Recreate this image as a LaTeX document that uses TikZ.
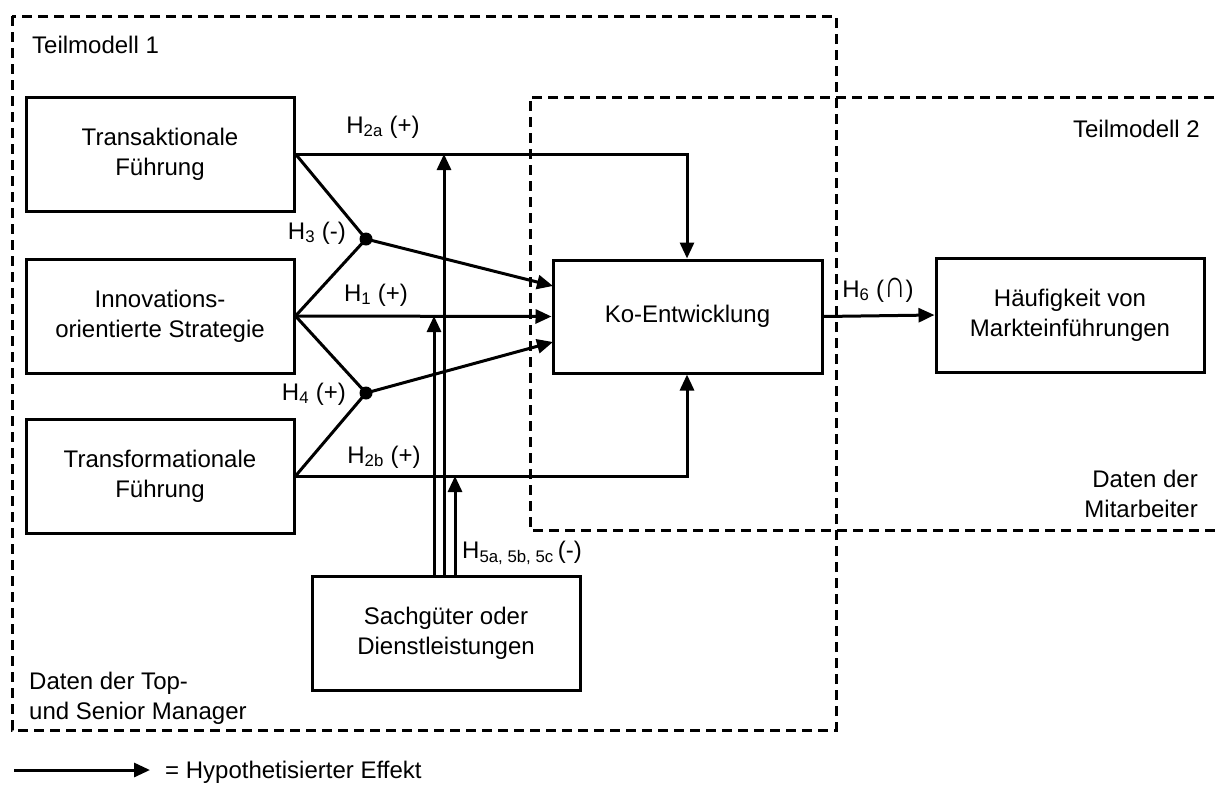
\documentclass[tikz,border=0pt]{standalone}
\usepackage{fontspec}
\usepackage{graphicx}
\setmainfont{Liberation Sans}
\usetikzlibrary{arrows.meta}
\begin{document}
\begin{tikzpicture}[x=1pt,y=-1pt,
  every node/.style={font=\fontsize{24}{30}\selectfont},
  box/.style={draw,line width=3pt,minimum width=268pt,minimum height=114pt,align=center,inner sep=0pt},
  conn/.style={line width=3pt},
  arr/.style={line width=3pt,-{Triangle[length=16pt,width=14pt]}},
  region/.style={line width=3pt,dash pattern=on 10pt off 6pt},
  dot/.style={circle,fill,inner sep=0pt,minimum size=13pt},
  lbl/.style={inner sep=1pt}]
\useasboundingbox (0,0) rectangle (1216,785);
% regions
\draw[region] (12,16) rectangle (836,730);
\draw[region] (1230,97) -- (530,97) -- (530,530) -- (1230,530);
\node[lbl,anchor=west] (t1) at (31,45) {Teilmodell 1};
\node[lbl,anchor=east] (t2) at (1201,129) {Teilmodell 2};
\node[lbl,anchor=east,align=right] (dm) at (1199,494) {Daten der\\Mitarbeiter};
\node[lbl,anchor=west,align=left] (dt) at (28,698) {Daten der Top-\\und Senior Manager};
% boxes
\node[box] (ta) at (160,154) {Transaktionale\\Führung};
\node[box] (is) at (160,316) {Innovations-\\orientierte Strategie};
\node[box] (tf) at (160,476) {Transformationale\\Führung};
\node[box,minimum width=269pt,minimum height=113pt] (ko) at (687.5,316.5) {Ko-Entwicklung};
\node[box] (hm) at (1070,315) {Häufigkeit von\\Markteinführungen};
\node[box] (sg) at (446,633) {Sachgüter oder\\Dienstleistungen};
% junction dots
\node[dot] (d3) at (366,239) {};
\node[dot] (d4) at (366,393) {};
\coordinate (a2) at (687,154);
\coordinate (b2) at (687,476);
\coordinate (k3) at (553,286);
\coordinate (k4) at (553,342);
\coordinate (v1) at (434,316);
\coordinate (v2) at (444,154);
\coordinate (v3) at (455,476);
% connectors
\draw[arr] (ta.east) -- (a2) -- (ko.north -| a2);
\draw[arr] (tf.east) -- (b2) -- (ko.south -| b2);
\draw[conn] (ta.east) -- (d3.center) -- (is.east);
\draw[conn] (is.east) -- (d4.center) -- (tf.east);
\draw[arr] (d3.center) -- (k3);
\draw[arr] (d4.center) -- (k4);
\draw[arr] (is.east) -- (ko.west);
\draw[arr] (sg.north -| v1) -- (v1);
\draw[arr] (sg.north -| v2) -- (v2);
\draw[arr] (sg.north -| v3) -- (v3);
\draw[arr] (ko.east) -- (hm.west);
% labels
\node[lbl] (l2a) at (383,127) {H\textsubscript{2a} (+)};
\node[lbl,anchor=east] (l3) at (347,233) {H\textsubscript{3} (-)};
\node[lbl] (l1) at (376,295) {H\textsubscript{1} (+)};
\node[lbl,anchor=east] (l4) at (347,394) {H\textsubscript{4} (+)};
\node[lbl] (l2b) at (384,457) {H\textsubscript{2b} (+)};
\node[lbl,anchor=west] (l5) at (461,553) {H\textsubscript{5a, 5b, 5c}\,(-)};
\node[lbl] (l6) at (878,290) {H\textsubscript{6} (\scalebox{1.25}[1.6]{∩})};
% legend
\coordinate (lg1) at (14,770);
\coordinate (lg2) at (150,770);
\draw[arr] (lg1) -- (lg2);
\node[lbl,anchor=west] (lgt) at (164,772) {= Hypothetisierter Effekt};
\end{tikzpicture}
\end{document}
